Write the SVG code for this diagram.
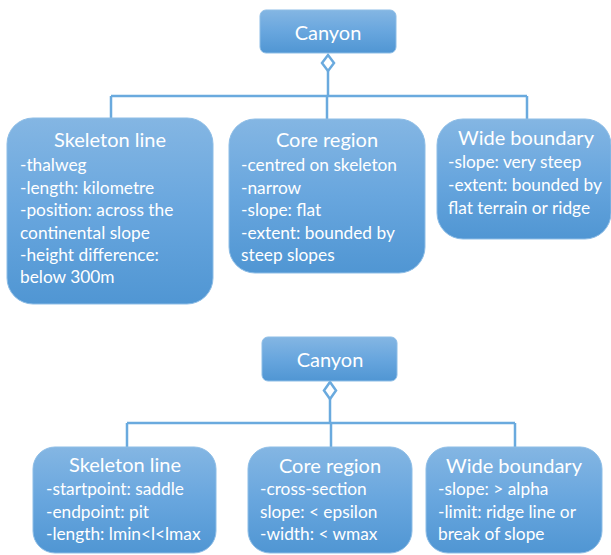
<svg xmlns="http://www.w3.org/2000/svg" width="611" height="555" viewBox="0 0 611 555">
  <defs>
    <linearGradient id="boxFill" x1="0" y1="0" x2="0" y2="1">
      <stop offset="0" stop-color="#84b6e3"/>
      <stop offset="0.5" stop-color="#68a6de"/>
      <stop offset="1" stop-color="#5096d3"/>
    </linearGradient>
  </defs>
  <style>
    .box { fill: url(#boxFill); stroke: #8dbde6; stroke-width: 1; }
    .title { font-family: Lato, "Open Sans", "Liberation Sans", sans-serif; font-size: 20px; fill: #ffffff; text-anchor: middle; }
    .body { font-family: Lato, "Open Sans", "Liberation Sans", sans-serif; font-size: 17.3px; fill: #ffffff; }
    .link { fill: none; stroke: #6aaade; stroke-width: 2.5; }
    .diamond { fill: #ffffff; stroke: #6aaade; stroke-width: 2.5; }
  </style>

  <!-- connectors -->
  <g id="connectors">
    <path class="link" d="M328 71 V96 M111 96 H527 M111 96 V119 M327 96 V119 M527 96 V119"/>
    <polygon class="diamond" points="328,55 334,63 328,71 322,63"/>
    <path class="link" d="M330 399 V423 M127 423 H515 M127 423 V447 M331 423 V447 M515 423 V447"/>
    <polygon class="diamond" points="330,382 336,390.5 330,399 324,390.5"/>
  </g>

  <!-- upper diagram -->
  <g id="canyon-top">
    <rect class="box" x="260" y="10" width="136" height="43" rx="6"/>
    <text class="title" x="328" y="40">Canyon</text>
  </g>
  <g id="skeleton-top">
    <rect class="box" x="7" y="118" width="206" height="186" rx="26"/>
    <text class="title" x="110" y="147">Skeleton line</text>
    <text class="body" x="20" y="171">-thalweg</text>
    <text class="body" x="20" y="193.5">-length: kilometre</text>
    <text class="body" x="20" y="216">-position: across the</text>
    <text class="body" x="20" y="238.5">continental slope</text>
    <text class="body" x="20" y="261">-height difference:</text>
    <text class="body" x="20" y="283">below 300m</text>
  </g>
  <g id="core-top">
    <rect class="box" x="229" y="119" width="196" height="154" rx="26"/>
    <text class="title" x="327" y="147">Core region</text>
    <text class="body" x="241" y="171">-centred on skeleton</text>
    <text class="body" x="241" y="193.5">-narrow</text>
    <text class="body" x="241" y="216">-slope: flat</text>
    <text class="body" x="241" y="238.5">-extent: bounded by</text>
    <text class="body" x="241" y="261">steep slopes</text>
  </g>
  <g id="wide-top">
    <rect class="box" x="437" y="119" width="174" height="120" rx="26"/>
    <text class="title" x="526" y="145">Wide boundary</text>
    <text class="body" x="448" y="168">-slope: very steep</text>
    <text class="body" x="448" y="191">-extent: bounded by</text>
    <text class="body" x="448" y="214">flat terrain or ridge</text>
  </g>

  <!-- lower diagram -->
  <g id="canyon-bottom">
    <rect class="box" x="262" y="337" width="135" height="44" rx="6"/>
    <text class="title" x="330" y="367">Canyon</text>
  </g>
  <g id="skeleton-bottom">
    <rect class="box" x="33" y="447" width="183" height="106" rx="22"/>
    <text class="title" x="125" y="472">Skeleton line</text>
    <text class="body" x="46" y="495">-startpoint: saddle</text>
    <text class="body" x="46" y="517.5">-endpoint: pit</text>
    <text class="body" x="46" y="540">-length: lmin&lt;l&lt;lmax</text>
  </g>
  <g id="core-bottom">
    <rect class="box" x="248" y="447" width="164" height="106" rx="22"/>
    <text class="title" x="330" y="473">Core region</text>
    <text class="body" x="260" y="495">-cross-section</text>
    <text class="body" x="260" y="517.5">slope: &lt; epsilon</text>
    <text class="body" x="260" y="540">-width: &lt; wmax</text>
  </g>
  <g id="wide-bottom">
    <rect class="box" x="426" y="447" width="176" height="106" rx="22"/>
    <text class="title" x="514" y="473">Wide boundary</text>
    <text class="body" x="438" y="495">-slope: &gt; alpha</text>
    <text class="body" x="438" y="517.5">-limit: ridge line or</text>
    <text class="body" x="438" y="540">break of slope</text>
  </g>
</svg>
